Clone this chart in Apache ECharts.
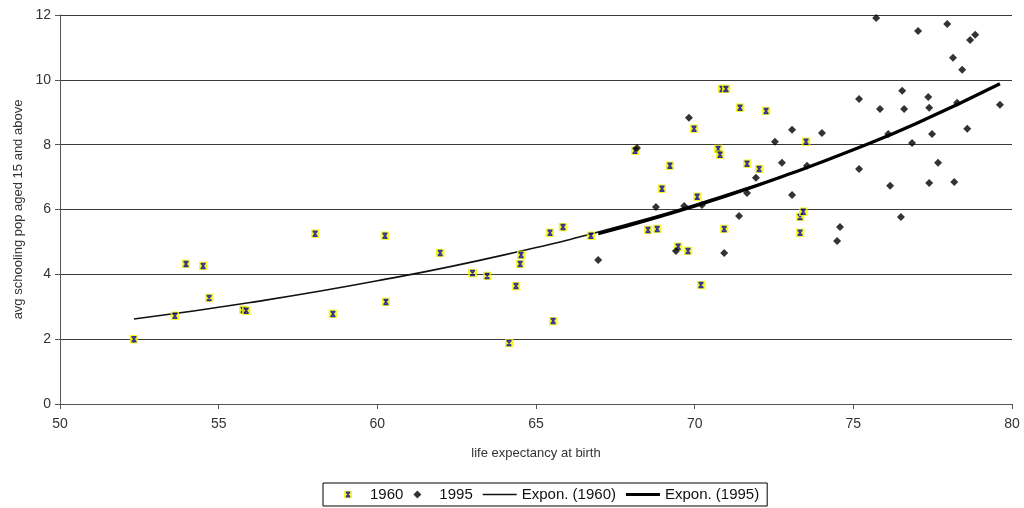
<!DOCTYPE html>
<html>
<head>
<meta charset="utf-8">
<script src="https://cdn.jsdelivr.net/npm/echarts@6/dist/echarts.min.js"></script>
<style>
  html, body { margin: 0; padding: 0; background: #fff; }
  #chart { width: 1024px; height: 508px; }
</style>
</head>
<body>
<div id="chart"></div>
<script>
// 1960 points: life expectancy / avg schooling
const life1960 = [52.33, 53.62, 53.97, 54.51, 54.70, 55.77, 55.87, 58.04, 58.60, 60.24, 60.27, 61.98, 63.00, 63.46, 64.15,
  64.37, 64.50, 64.53, 65.44, 65.54, 65.85, 66.73, 68.12, 68.53, 68.82, 68.97, 69.22, 69.48, 69.79, 69.98,
  70.08, 70.20, 70.74, 70.80, 70.86, 70.99, 70.93, 71.43, 71.65, 72.03, 72.25, 73.32, 73.42, 73.32, 73.51]
const school1960 = [2.00, 2.72, 4.32, 4.26, 3.27, 2.90, 2.88, 5.25, 2.78, 5.19, 3.15, 4.66, 4.04, 3.95, 1.88,
  3.64, 4.32, 4.60, 5.28, 2.56, 5.46, 5.19, 7.81, 5.37, 5.40, 6.64, 7.35, 4.85, 4.72, 8.49,
  6.39, 3.67, 7.87, 7.69, 9.72, 9.72, 5.40, 9.14, 7.41, 7.25, 9.04, 5.77, 5.93, 5.28, 8.09]

// 1995 points
const life1995 = [66.96, 68.18, 68.78, 69.41, 69.67, 69.82, 70.23, 70.93, 71.40, 71.65, 71.93, 72.53, 72.75, 73.07, 73.07,
  73.54, 74.01, 74.49, 74.58, 75.18, 75.18, 75.72, 75.84, 76.10, 76.16, 76.50, 76.54, 76.60, 76.85, 77.04,
  77.36, 77.39, 77.39, 77.48, 77.67, 77.96, 78.14, 78.18, 78.27, 78.43, 78.59, 78.68, 78.84, 79.62]
const school1995 = [4.44, 7.90, 6.08, 4.72, 6.11, 8.83, 6.14, 4.66, 5.80, 6.51, 6.98, 8.09, 7.44, 8.46, 6.45,
  7.35, 8.36, 5.03, 5.46, 9.41, 7.25, 11.91, 9.10, 8.33, 6.73, 5.77, 9.66, 9.10, 8.05, 11.51,
  9.47, 9.14, 6.82, 8.33, 7.44, 11.72, 10.68, 6.85, 9.29, 10.31, 8.49, 11.23, 11.39, 9.23]

// trend lines
const trendX1960 = [52.33, 56, 60, 64, 68, 71, 73.5]
const trendY1960 = [2.62, 3.13, 3.80, 4.60, 5.58, 6.46, 7.28]
const trendX1995 = [66.96, 69, 71, 73, 75, 77, 79.62]
const trendY1995 = [5.25, 5.81, 6.42, 7.10, 7.84, 8.66, 9.88]

const xTicks = [50, 55, 60, 65, 70, 75, 80]
const yTicks = [0, 2, 4, 6, 8, 10, 12]

const pairs = (xs, ys) => xs.map((x, i) => [x, ys[i]])

const starSvg = '<svg xmlns="http://www.w3.org/2000/svg" width="9" height="9" viewBox="0 0 9 9">' +
  '<rect width="9" height="9" fill="#f5f500"/>' +
  '<path d="M2 2H7M2 7H7M2.6 2.2L6.4 6.8M6.4 2.2L2.6 6.8" stroke="#00007a" stroke-width="1.5" fill="none"/></svg>'
const starIcon = 'image://data:image/svg+xml;charset=utf-8,' + encodeURIComponent(starSvg)
const diamondIcon = 'path://M4 0L8 4L4 8L0 4Z'

const font = 'Liberation Sans, Arial, sans-serif'
const chart = echarts.init(document.getElementById('chart'), null, { renderer: 'canvas' })

chart.setOption({
  animation: false,
  textStyle: { fontFamily: font },
  grid: { left: 60, right: 12, top: 15, bottom: 104 },
  xAxis: {
    type: 'value',
    min: xTicks[0],
    max: xTicks[xTicks.length - 1],
    interval: 5,
    name: 'life expectancy at birth',
    nameLocation: 'middle',
    nameGap: 43,
    nameTextStyle: { color: '#333', fontSize: 13 },
    axisLine: { onZero: false, lineStyle: { color: '#555', width: 1 } },
    axisTick: { show: true, length: 5, lineStyle: { color: '#555' } },
    axisLabel: { color: '#333', fontSize: 14, margin: 13 },
    splitLine: { show: false },
  },
  yAxis: {
    type: 'value',
    min: yTicks[0],
    max: yTicks[yTicks.length - 1],
    interval: 2,
    name: 'avg schooling pop aged 15 and above',
    nameLocation: 'middle',
    nameGap: 34,
    nameTextStyle: { color: '#333', fontSize: 13 },
    axisLine: { show: true, lineStyle: { color: '#555', width: 1 } },
    axisTick: { show: true, length: 5, lineStyle: { color: '#555' } },
    axisLabel: { color: '#333', fontSize: 14, margin: 9 },
    splitLine: { show: true, lineStyle: { color: '#3a3a3a', width: 1 } },
  },
  legend: {
    bottom: 2,
    left: 323,
    orient: 'horizontal',
    padding: [4, 8],
    itemGap: 10,
    itemWidth: 34,
    itemHeight: 8,
    symbolKeepAspect: true,
    borderColor: '#000',
    borderWidth: 1,
    borderRadius: 0,
    textStyle: { color: '#111', fontSize: 15, fontFamily: font },
    data: [
      { name: '1960' },
      { name: '1995', icon: diamondIcon },
      { name: 'Expon. (1960)', icon: 'path://M0 0H34V1.4H0Z' },
      { name: 'Expon. (1995)', icon: 'path://M0 0H34V3H0Z' },
    ],
  },
  series: [
    {
      name: 'Expon. (1960)',
      type: 'line',
      data: pairs(trendX1960, trendY1960),
      smooth: true,
      symbol: 'none',
      lineStyle: { color: '#111', width: 1.6 },
      itemStyle: { color: '#111' },
      z: 2,
    },
    {
      name: 'Expon. (1995)',
      type: 'line',
      data: pairs(trendX1995, trendY1995),
      smooth: true,
      symbol: 'none',
      lineStyle: { color: '#000', width: 3.2 },
      itemStyle: { color: '#000' },
      z: 3,
    },
    {
      name: '1960',
      type: 'scatter',
      data: pairs(life1960, school1960),
      symbol: starIcon,
      symbolSize: 9,
      z: 4,
    },
    {
      name: '1995',
      type: 'scatter',
      data: pairs(life1995, school1995),
      symbol: diamondIcon,
      symbolSize: 8,
      itemStyle: { color: '#000' },
      z: 5,
    },
  ],
})
</script>
</body>
</html>
